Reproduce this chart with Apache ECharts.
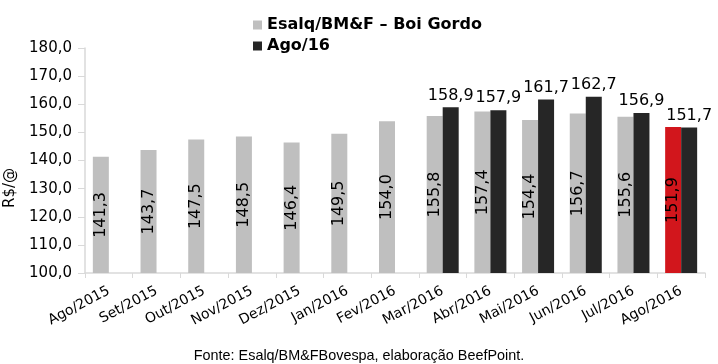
<!DOCTYPE html>
<html><head><meta charset="utf-8">
<script src="https://cdn.jsdelivr.net/npm/echarts@6/dist/echarts.min.js"></script>
<style>html,body{margin:0;padding:0;background:#fff}#c{width:718px;height:364px}</style>
</head><body><div id="c"></div>
<script>
const categories = ["Ago/2015","Set/2015","Out/2015","Nov/2015","Dez/2015","Jan/2016","Fev/2016","Mar/2016","Abr/2016","Mai/2016","Jun/2016","Jul/2016","Ago/2016"];
const esalqValues = [141.3,143.7,147.5,148.5,146.4,149.5,154.0,155.8,157.4,154.4,156.7,155.6,151.9];
const ago16Values = [null,null,null,null,null,null,null,158.9,157.9,161.7,162.7,156.9,151.7];
const seriesNames = ["Esalq/BM&F – Boi Gordo","Ago/16"];
const yTicks = {min:100,max:180,interval:10};
const axisName = "R$/@";
const sourceText = "Fonte: Esalq/BM&FBovespa, elaboração BeefPoint.";

const fmt = v => v.toFixed(1).replace('.', ',');
const FONT = 'DejaVu Sans';
const chart = echarts.init(document.getElementById('c'));
chart.setOption({
  animation:false,
  textStyle:{fontFamily:FONT},
  grid:{left:85,right:13,top:48,bottom:91,containLabel:false},
  legend:{
    orient:'vertical', left:248, top:12, itemWidth:9, itemHeight:9, itemGap:5,
    textStyle:{fontFamily:FONT,fontWeight:'bold',fontSize:16,color:'#000'},
    data:[{name:seriesNames[0],icon:'rect'},{name:seriesNames[1],icon:'rect'}]
  },
  xAxis:{
    type:'category', data:categories,
    axisLine:{lineStyle:{color:'#d9d9d9',width:1.5}},
    axisTick:{show:true,length:5,lineStyle:{color:'#d9d9d9'},alignWithLabel:false},
    axisLabel:{rotate:28,fontSize:14,color:'#000',fontFamily:FONT,margin:17,interval:0}
  },
  yAxis:{
    type:'value', min:yTicks.min, max:yTicks.max, interval:yTicks.interval,
    axisLine:{show:true,lineStyle:{color:'#d9d9d9',width:1.5}},
    axisTick:{show:true,length:7,lineStyle:{color:'#d9d9d9'}},
    splitLine:{show:false},
    axisLabel:{fontSize:15,color:'#000',fontFamily:FONT,margin:13,formatter:fmt}
  },
  graphic:[
    {type:'text',left:3,top:168,rotation:Math.PI/2,
     style:{text:axisName,fontFamily:FONT,fontSize:15,fill:'#000'}},
    {type:'text',left:'center',top:349,
     style:{text:sourceText,fontFamily:'Liberation Sans Narrow, Liberation Sans',fontSize:14.4,fill:'#000'}}
  ],
  series:[
    {name:seriesNames[0],type:'bar',barWidth:16,barGap:'0%',
     itemStyle:{color:'#bfbfbf'},
     data:esalqValues.map((v,i)=> i===esalqValues.length-1 ? {value:v,itemStyle:{color:'#d2161c'}} : v),
     label:{show:true,position:'inside',rotate:90,fontSize:16,color:'#000',fontFamily:FONT,
       formatter:p=>fmt(p.value)}},
    {name:seriesNames[1],type:'bar',barWidth:16,barGap:'0%',
     itemStyle:{color:'#262626'},
     data:ago16Values,
     label:{show:true,position:'top',distance:4,fontSize:16,color:'#000',fontFamily:FONT,
       formatter:p=>fmt(p.value)}}
  ]
});
</script></body></html>
